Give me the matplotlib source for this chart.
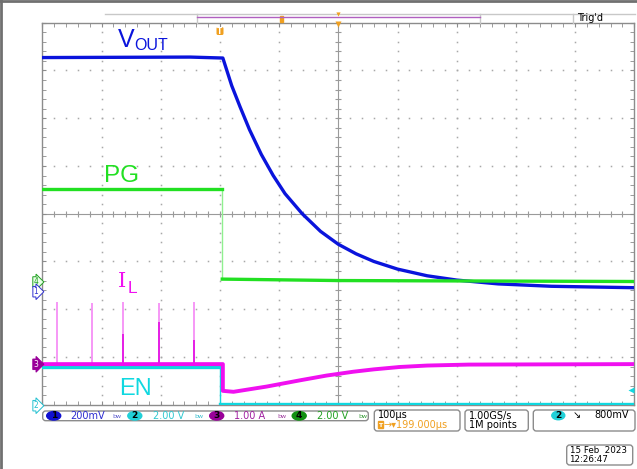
import numpy as np
import matplotlib.pyplot as plt
from matplotlib.patches import FancyBboxPatch, Ellipse, Rectangle
from matplotlib.ticker import MultipleLocator

W, H = 637, 469

# scope traces, x in divisions (100 us/div), y in divisions
vout_t = [0, 2.5, 3.05, 3.2, 3.34, 3.5, 3.7, 3.9, 4.1, 4.39, 4.7, 5.0,
          5.3, 5.6, 6.0, 6.5, 7.0, 7.7, 8.6, 10]
vout_v = [3.27, 3.28, 3.26, 2.68, 2.24, 1.76, 1.24, 0.80, 0.42, 0.0, -0.37, -0.64,
          -0.84, -1.00, -1.16, -1.30, -1.39, -1.47, -1.52, -1.55]

pg_t = [0, 3.04, 3.04, 5.0, 10]
pg_v = [0.52, 0.52, -1.37, -1.40, -1.42]

il_t = [0, 3.05, 3.05, 3.23, 3.79, 4.35, 4.8, 5.25, 5.6, 6.04, 6.5, 7.2, 10]
il_v = [-3.15, -3.15, -3.71, -3.73, -3.62, -3.49, -3.39, -3.31, -3.26, -3.21, -3.18, -3.16, -3.15]

# switching spikes on IL before the trigger
spike_t = [0.243, 0.845, 1.368, 1.976, 2.557]
spike_top = [-1.85, -1.86, -1.85, -1.86, -1.85]
spike_dark = [-3.15, -3.15, -2.52, -2.27, -2.64]

en_t = [0, 3.0, 3.0, 10]
en_v = [-3.22, -3.22, -3.98, -3.98]

# channel ground markers (y in pixels) and readouts
ch_names = ["4", "1", "3", "2"]
ch_marker_y = [282, 291.7, 364.3, 405.7]
scales = ["200mV", "2.00 V", "1.00 A", "2.00 V"]

BLUE = "#0a14dc"
GREEN = "#22e022"
MAGENTA = "#f010f0"
CYAN = "#10d8e0"
ORANGE = "#f0a020"
GRAY = "#8c8c8c"

fig = plt.figure(figsize=(W / 100, H / 100), dpi=100)
fig.patch.set_facecolor("white")

# plot area
L, R, T, B = 42.3, 634.3, 22.7, 404.7
ax = fig.add_axes([L / W, 1 - B / H, (R - L) / W, (B - T) / H])
ax.set_xlim(0, 10)
ax.set_ylim(-4, 4)
for s in ax.spines.values():
    s.set_color(GRAY)
    s.set_linewidth(1)
ax.xaxis.set_major_locator(MultipleLocator(1))
ax.yaxis.set_major_locator(MultipleLocator(1))
ax.xaxis.set_minor_locator(MultipleLocator(0.2))
ax.yaxis.set_minor_locator(MultipleLocator(0.2))
ax.tick_params(which="both", direction="in", length=3, color=GRAY, top=True, right=True,
               labelbottom=False, labelleft=False)

# graticule dots
fine_y = np.arange(-4, 4.01, 0.2)
fine_x = np.arange(0, 10.01, 0.2)
for i in range(1, 10):
    if i != 5:
        ax.plot(np.full_like(fine_y, i), fine_y, "s", ms=1.1, color="#a8a8a8", mec="none", zorder=1)
for j in range(-3, 4):
    if j != 0:
        ax.plot(fine_x, np.full_like(fine_x, j), "s", ms=1.1, color="#a8a8a8", mec="none", zorder=1)
ax.axhline(0, color="#9a9a9a", lw=0.8, zorder=1)
ax.axvline(5, color="#9a9a9a", lw=0.8, zorder=1)
ax.plot(np.full_like(fine_y, 5), fine_y, "_", ms=5, color="#9a9a9a", mew=0.8, zorder=1)
ax.plot(fine_x, np.zeros_like(fine_x), "|", ms=5, color="#9a9a9a", mew=0.8, zorder=1)

# traces
ax.plot(vout_t, vout_v, color=BLUE, lw=2.4, zorder=3, solid_joinstyle="round")
ax.plot(pg_t[1:3], pg_v[1:3], color="#90f090", lw=1, zorder=4)
ax.plot(pg_t[:2], pg_v[:2], color=GREEN, lw=2.4, zorder=4)
ax.plot(pg_t[2:], pg_v[2:], color=GREEN, lw=2.4, zorder=4)
ax.plot(en_t[1:3], en_v[1:3], color=CYAN, lw=1, zorder=5)
ax.plot(en_t[:2], en_v[:2], color=CYAN, lw=2.4, zorder=5)
ax.plot(en_t[2:], en_v[2:], color=CYAN, lw=2.4, zorder=5)
ax.vlines(spike_t, -3.15, spike_top, color="#f47cf4", lw=1.1, zorder=6)
ax.vlines(spike_t, -3.15, spike_dark, color="#e000e0", lw=1.1, zorder=6)
ax.plot(il_t, il_v, color=MAGENTA, lw=2.8, zorder=7, solid_joinstyle="round")
ax.plot([9.95], [-3.7], marker="<", ms=4, color=CYAN, mec="none", clip_on=False, zorder=8)

# overlay in pixel coordinates
ov = fig.add_axes([0, 0, 1, 1])
ov.set_xlim(0, W)
ov.set_ylim(H, 0)
ov.axis("off")
ov.set_zorder(5)

ov.plot([0, W], [1.5, 1.5], color="#707070", lw=2)
ov.plot([1, 1], [0, H], color="#707070", lw=2)

# top status bar
ov.plot([105, 635], [13.7, 13.7], color="#c8c8c8", lw=1)
for xv in [197, 480, 573]:
    ov.plot([xv, xv], [13.7, 22.7], color="#c8c8c8", lw=1)
ov.plot([197, 480], [16.7, 16.7], color="#b060c0", lw=1)
ov.add_patch(Rectangle((279.5, 16), 3.5, 6, color=ORANGE))
ov.plot([338], [14.5], marker="v", ms=3, color=ORANGE, mec="none")
ov.plot([338], [24.5], marker="v", ms=5, color=ORANGE, mec="none")
ov.text(577, 21, "Trig'd", fontsize=7, va="baseline", color="black")
ov.add_patch(FancyBboxPatch((216.5, 27), 7, 8, boxstyle="round,pad=0,rounding_size=1.5", fc=ORANGE, ec="none"))
ov.text(220, 31.3, "T", fontsize=5.5, color="white", ha="center", va="center", fontweight="bold")

# channel labels on the traces
ov.text(118, 46.7, "V", fontsize=18, color=BLUE, family="Liberation Sans", va="baseline")
ov.text(134, 50, "OUT", fontsize=11.5, color=BLUE, family="Liberation Sans", va="baseline")
ov.text(104, 182, "PG", fontsize=17.5, color=GREEN, family="Liberation Sans", va="baseline")
ov.text(118, 286.7, "I", fontsize=15, color=MAGENTA, family="DejaVu Serif", va="baseline")
ov.text(127.5, 293.3, "L", fontsize=12.5, color=MAGENTA, family="Liberation Sans", va="baseline")
ov.text(119, 395, "EN", fontsize=17, color=CYAN, family="Liberation Sans", va="baseline")

# ground markers at the left edge
marker_style = {
    "4": dict(fc="#e8ffe8", ec="#20a020", tc="#20a020"),
    "1": dict(fc="white", ec="#3030d0", tc="#3030d0"),
    "3": dict(fc="#990099", ec="#990099", tc="white"),
    "2": dict(fc="white", ec="#20c0d0", tc="#20c0d0"),
}
for name, yv in zip(ch_names, ch_marker_y):
    st = marker_style[name]
    ov.text(36, yv, name, fontsize=5.5, color=st["tc"], ha="center", va="center",
            bbox=dict(boxstyle="rarrow,pad=0.1", fc=st["fc"], ec=st["ec"], lw=0.7))

# readout bar
box_kw = dict(boxstyle="round,pad=0,rounding_size=3", fc="white", ec=GRAY, lw=1)
ov.add_patch(FancyBboxPatch((42.7, 411), 325.6, 9.7, **box_kw))
ov.add_patch(FancyBboxPatch((374.3, 410), 85.7, 21, **box_kw))
ov.add_patch(FancyBboxPatch((465, 410), 63.3, 21, **box_kw))
ov.add_patch(FancyBboxPatch((533.3, 410), 101.7, 21, **box_kw))
ov.add_patch(FancyBboxPatch((566.7, 445), 66, 20, **box_kw))

chip_x = [53.7, 134.8, 216.7, 299.2]
chip_c = ["#1010d0", "#20d0d8", "#990099", "#109010"]
text_x = [70.7, 152.7, 234, 317.3]
text_c = ["#2b2bd0", "#30c8d0", "#a020a0", "#20a020"]
bw_x = [117.3, 199.3, 281.7, 363.3]
bw_c = ["#6060d0", "#40c0d0", "#a040a0", "#40a040"]
for k in range(4):
    ov.add_patch(Ellipse((chip_x[k], 415.8), 14, 8.5, color=chip_c[k]))
    ov.text(chip_x[k], 416, str(k + 1), fontsize=6.5, ha="center", va="center",
            color="black", fontweight="bold")
    ov.text(text_x[k], 416, scales[k], fontsize=7, color=text_c[k], va="center")
    ov.text(bw_x[k], 416, "bw", fontsize=4.5, color=bw_c[k], va="center", ha="center")

ov.text(377.7, 415.5, "100µs", fontsize=7, va="center")
ov.add_patch(Rectangle((377.7, 421.5), 5.5, 7, color=ORANGE))
ov.text(380.4, 425.2, "T", fontsize=4.5, color="white", ha="center", va="center", fontweight="bold")
ov.text(383.5, 425.2, "→▾199.000µs", fontsize=7, color=ORANGE, va="center")
ov.text(469.3, 415.5, "1.00GS/s", fontsize=7, va="center")
ov.text(469.3, 425.2, "1M points", fontsize=7, va="center")
ov.add_patch(Ellipse((558.3, 415.5), 13, 8.5, color="#20d0d8"))
ov.text(558.3, 415.8, "2", fontsize=6.5, ha="center", va="center", fontweight="bold")
ov.text(576.7, 415.5, "↘", fontsize=7, ha="center", va="center")
ov.text(628.5, 415.5, "800mV", fontsize=7, ha="right", va="center")
ov.text(569.5, 450.7, "15 Feb  2023", fontsize=6.3, va="center")
ov.text(569.5, 459.5, "12:26:47", fontsize=6.3, va="center")

fig.savefig("out.png", dpi=100)
